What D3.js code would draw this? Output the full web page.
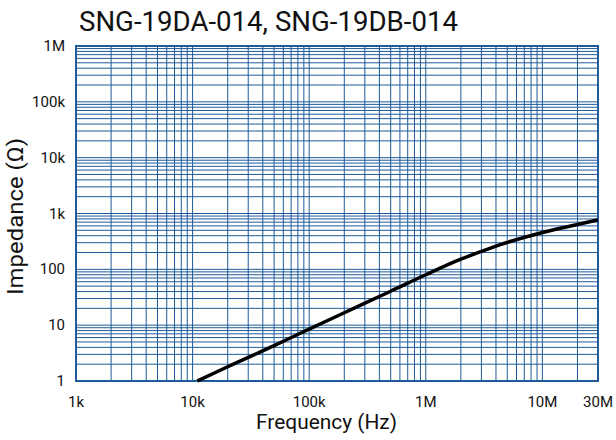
<!DOCTYPE html>
<html>
<head>
<script src="https://d3js.org/d3.v7.min.js"></script>
<style>
  body { margin: 0; background: #fff; }
  text { font-family: Roboto, sans-serif; fill: #111; }
  .grid line { stroke: #1f5b9b; stroke-width: 1; }
</style>
</head>
<body>
<svg width="616" height="440"></svg>
<script>
// impedance curve
var freq = [11e3, 20e3, 50e3, 83e3, 100e3, 200e3, 500e3, 1e6, 2e6, 3e6, 4.3e6, 9.5e6, 20e6, 30e6];
var imp  = [1.0, 1.8, 4.3, 7.1, 8.5, 16.7, 40.5, 80, 152, 209, 274, 443, 634, 768];

var xTicks = [1e3, 1e4, 1e5, 1e6, 1e7, 3e7];
var xTickLabels = ["1k", "10k", "100k", "1M", "10M", "30M"];
var yTicks = [1, 10, 100, 1e3, 1e4, 1e5, 1e6];
var yTickLabels = ["1", "10", "100", "1k", "10k", "100k", "1M"];

var svg = d3.select("svg"),
    margin = {top: 46, right: 18, bottom: 59, left: 76},
    width = 616 - margin.left - margin.right,
    height = 440 - margin.top - margin.bottom,
    g = svg.append("g").attr("transform", "translate(" + margin.left + "," + margin.top + ")");

var x = d3.scaleLog().domain([1e3, 3e7]).range([0, width]);
var y = d3.scaleLog().domain([1, 1e6]).range([height, 0]);

// grid lines: every 1..9 in each decade
var xGrid = [], yGrid = [];
for (var e = 3; e <= 7; e++) for (var m = 1; m <= 9; m++) { var v = m * Math.pow(10, e); if (v <= 3e7) xGrid.push(v); }
for (var e = 0; e <= 6; e++) for (var m = 1; m <= 9; m++) { var v = m * Math.pow(10, e); if (v <= 1e6) yGrid.push(v); }

g.append("g").attr("class", "grid")
  .selectAll("line").data(xGrid).enter().append("line")
  .attr("x1", function(d) { return x(d); }).attr("x2", function(d) { return x(d); })
  .attr("y1", 0).attr("y2", height);

g.append("g").attr("class", "grid")
  .selectAll("line").data(yGrid).enter().append("line")
  .attr("y1", function(d) { return y(d); }).attr("y2", function(d) { return y(d); })
  .attr("x1", 0).attr("x2", width);

g.append("rect").attr("width", width).attr("height", height)
  .attr("fill", "none").attr("stroke", "#1f5b9b").attr("stroke-width", 2);

var line = d3.line()
  .x(function(d, i) { return x(freq[i]); })
  .y(function(d, i) { return y(imp[i]); })
  .curve(d3.curveMonotoneX);

g.append("path").datum(imp)
  .attr("d", line)
  .attr("fill", "none").attr("stroke", "#000").attr("stroke-width", 3.5);

// tick labels
g.selectAll(".xl").data(xTicks).enter().append("text")
  .attr("x", function(d) { return x(d); })
  .attr("y", height + 26)
  .attr("text-anchor", "middle")
  .style("font-size", "15px")
  .text(function(d, i) { return xTickLabels[i]; });

g.selectAll(".yl").data(yTicks).enter().append("text")
  .attr("x", -11)
  .attr("y", function(d) { return y(d) + 5; })
  .attr("text-anchor", "end")
  .style("font-size", "15px")
  .text(function(d, i) { return yTickLabels[i]; });

svg.append("text")
  .attr("x", 79).attr("y", 31)
  .attr("textLength", 379).attr("lengthAdjust", "spacingAndGlyphs")
  .style("font-size", "27px")
  .text("SNG-19DA-014, SNG-19DB-014");

svg.append("text")
  .attr("x", 256).attr("y", 429)
  .attr("textLength", 141).attr("lengthAdjust", "spacingAndGlyphs")
  .style("font-size", "21px")
  .text("Frequency (Hz)");

svg.append("text")
  .attr("transform", "translate(23,295) rotate(-90)")
  .attr("textLength", 157).attr("lengthAdjust", "spacingAndGlyphs")
  .style("font-size", "22px")
  .text("Impedance (Ω)");
</script>
</body>
</html>
